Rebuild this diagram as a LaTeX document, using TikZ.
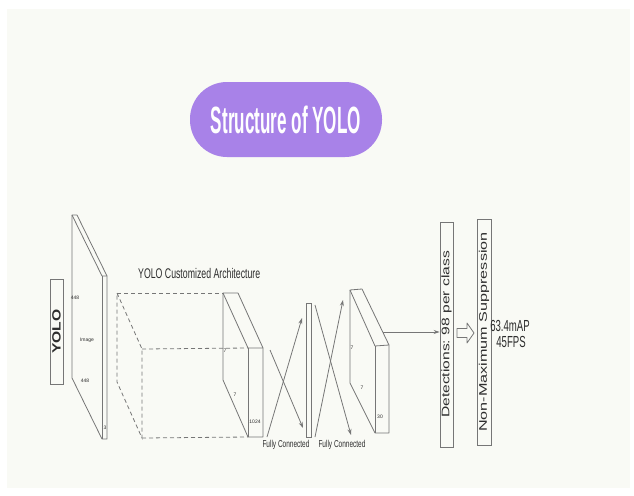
\documentclass[tikz,border=0pt]{standalone}
\usepackage{fontspec}
\setmainfont{Liberation Sans}
\usetikzlibrary{arrows.meta}
\definecolor{bgc}{RGB}{249,250,245}
\definecolor{pill}{RGB}{168,130,232}
\definecolor{lc}{RGB}{118,118,118}
\definecolor{tc}{RGB}{45,45,45}
\newcommand\hsq[3]{\scalebox{#1}[1]{\fontsize{#2}{#2}\selectfont #3}}
\begin{document}
\begin{tikzpicture}[x=1pt,y=-1pt,
  ln/.style={draw=lc, line width=0.8pt, line join=round},
  dsh/.style={draw=lc, line width=0.8pt, dash pattern=on 4pt off 3pt},
  arr/.style={draw=lc, line width=0.8pt, -{Stealth[length=6pt,width=4pt]}},
  vbox/.style={draw=lc, line width=0.9pt, inner sep=0pt, fill=bgc, text=tc},
  txt/.style={text=tc, inner sep=0pt},
  tiny/.style={text=tc, inner sep=0pt, font=\fontsize{5}{5}\selectfont}]
\useasboundingbox (0,0) rectangle (634,495);
\fill[white] (0,0) rectangle (634,495);
\fill[bgc] (7,9) rectangle (630,488);

% title pill
\node[fill=pill, rounded corners=37pt, minimum width=192pt, minimum height=75pt, inner sep=0pt, text=white] (title) at (286,119.5)
  {\hsq{0.45}{38}{\bfseries Structure of YOLO}};

% YOLO box
\node[vbox, minimum width=13pt, minimum height=105pt] (yolo) at (56.5,331.5)
  {\rotatebox{90}{\scalebox{1.3}[1]{\fontsize{12}{12}\selectfont\bfseries YOLO}}};

% input slab
\coordinate (i1) at (72,215); \coordinate (i2) at (77,215);
\coordinate (i3) at (107,276); \coordinate (i4) at (102,276);
\coordinate (i5) at (102,439); \coordinate (i6) at (107,439);
\coordinate (i7) at (72,378);
\draw[ln] (i1)--(i2)--(i3)--(i6)--(i5)--(i7)--cycle;
\draw[ln] (i1)--(i4)--(i3);
\draw[ln] (i4)--(i5);
\node[tiny] (l448a) at (75,298) {448};
\node[tiny] (limg) at (87,340) {Image};
\node[tiny] (l448b) at (85,381) {448};
\node[tiny] (l3) at (105,428) {3};

% architecture label
\node[txt, anchor=west] (arch) at (138,273) {\hsq{0.625}{14}{YOLO Customized Architecture}};

% conv block
\coordinate (c1) at (223,293); \coordinate (c2) at (238,293);
\coordinate (c3) at (263,348); \coordinate (c4) at (248,348);
\coordinate (c5) at (248,437); \coordinate (c6) at (263,437);
\coordinate (c7) at (223,380);

% dashed volume
\coordinate (d1) at (117,293); \coordinate (d2) at (142,349);
\coordinate (d3) at (117,382); \coordinate (d4) at (142,438);
\draw[dsh] (d1)--(d2)--(d4)--(d3)--cycle;
\draw[dsh] (d1)--(c1);
\draw[dsh] (d2)--(c4);
\draw[dsh] (d4)--(c5);

\draw[ln] (c1)--(c2)--(c3)--(c6)--(c5)--(c7)--cycle;
\draw[ln] (c1)--(c4)--(c3);
\draw[ln] (c4)--(c5);
\node[tiny] (c7a) at (225,351) {7};
\node[tiny] (c7b) at (235,395) {7};
\node[tiny] (c1024) at (255,422) {1024};

% fully connected bar
\node[vbox, minimum width=5pt, minimum height=134pt] (fc) at (308.5,370) {};

% crossing arrows
\coordinate (a1) at (270,350); \coordinate (a2) at (303,428);
\coordinate (b1) at (267,437); \coordinate (b2) at (302,318);
\coordinate (e1) at (315,305); \coordinate (e2) at (351,435);
\coordinate (f1) at (315,437); \coordinate (f2) at (343,300);
\draw[arr] (a1)--(a2);
\draw[arr] (b1)--(b2);
\draw[arr] (e1)--(e2);
\draw[arr] (f1)--(f2);
\node[txt] (fcl1) at (286,445) {\hsq{0.65}{10}{Fully Connected}};
\node[txt] (fcl2) at (342,445) {\hsq{0.65}{10}{Fully Connected}};

% second slab
\coordinate (s1) at (350,290); \coordinate (s2) at (362,289);
\coordinate (s3) at (389,345); \coordinate (s4) at (375,346);
\coordinate (s5) at (375,433); \coordinate (s6) at (389,433);
\coordinate (s7) at (350,383);
\draw[ln] (s1)--(s2)--(s3)--(s6)--(s5)--(s7)--cycle;
\draw[ln] (s1)--(s4)--(s3);
\draw[ln] (s4)--(s5);
\node[tiny] (s7a) at (352,348) {7};
\node[tiny] (s7b) at (362,388) {7};
\node[tiny] (s30) at (380,417) {30};

% detections and NMS
\node[vbox, minimum width=13pt, minimum height=225pt] (det) at (446.5,334.5)
  {\rotatebox{90}{\scalebox{1.42}[1]{\fontsize{11}{11}\selectfont Detections:\ 98\ per\ class}}};
\node[vbox, minimum width=14pt, minimum height=226pt] (nms) at (484,332)
  {\rotatebox{90}{\scalebox{1.47}[1]{\fontsize{11}{11}\selectfont Non-Maximum Suppression}}};

\coordinate (sout) at (383,332);
\draw[arr] (sout) -- (sout -| det.west);

% hollow arrow
\draw[ln, fill=bgc] (457,328.5) -- (467,328.5) -- (467,323) -- (474,333) -- (467,343) -- (467,337.5) -- (457,337.5) -- cycle;

% results
\node[txt] (map) at (510,326) {\hsq{0.6}{16}{63.4mAP}};
\node[txt] (fps) at (511,342) {\hsq{0.6}{16}{45FPS}};
\end{tikzpicture}
\end{document}
